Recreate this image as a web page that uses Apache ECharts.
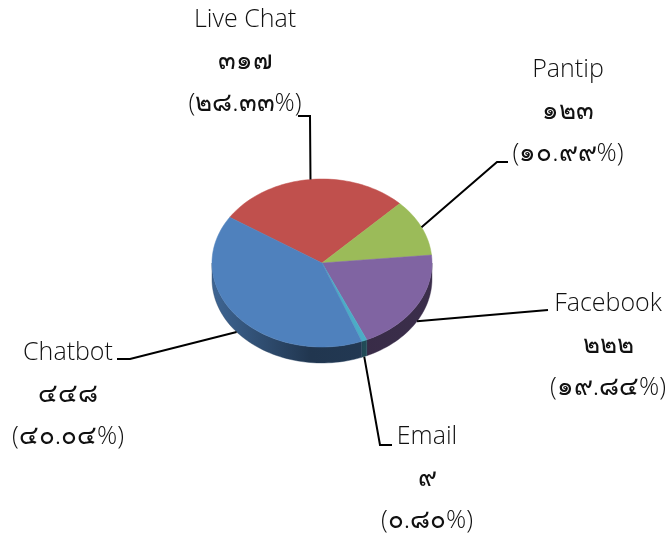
<!DOCTYPE html>
<html>
<head>
<meta charset="utf-8">
<script src="https://cdn.jsdelivr.net/npm/echarts@6/dist/echarts.min.js"></script>
<style>
  html, body { margin: 0; padding: 0; background: #fff; }
  #chart { width: 665px; height: 536px; }
</style>
</head>
<body>
<div id="chart"></div>
<script>
var channels = ['Live Chat', 'Pantip', 'Facebook', 'Email', 'Chatbot'];
var counts = [317, 123, 222, 9, 448];
var colors = ['#c0504d', '#9bbb59', '#8064a2', '#4bacc6', '#4f81bd'];

// label layout (centre of the middle text line) and where the leader line meets the text
var labelCenter = [[245, 62], [568, 112], [608, 346], [427, 479], [68, 395]];
var leaderEnd = [[298, 116], [508, 162], [548, 310], [392, 445], [117, 359]];
var elbowDx = [12, -11, 0, -12, 13];

var cx = 322, cy = 263, rx = 110, ry = 84, depth = 16, startAngle = 147;

var total = counts.reduce(function (a, b) { return a + b; }, 0);
var slices = [];
var acc = startAngle;
counts.forEach(function (v) {
    var sweep = v / total * 360;
    slices.push([acc, acc - sweep]);
    acc -= sweep;
});

function thai(s) {
    return String(s).replace(/[0-9]/g, function (d) { return '๐๑๒๓๔๕๖๗๘๙'[+d]; });
}

function pt(deg, dy) {
    var r = deg * Math.PI / 180;
    return [cx + rx * Math.cos(r), cy - ry * Math.sin(r) + (dy || 0)];
}

function arc(from, to, dy) {
    var pts = [];
    var n = Math.max(2, Math.ceil(Math.abs(from - to) / 2));
    for (var i = 0; i <= n; i++) pts.push(pt(from + (to - from) * i / n, dy));
    return pts;
}

function shade(hex, f) {
    var n = parseInt(hex.slice(1), 16);
    var r = Math.round(((n >> 16) & 255) * f), g = Math.round(((n >> 8) & 255) * f), b = Math.round((n & 255) * f);
    return 'rgb(' + r + ',' + g + ',' + b + ')';
}

var latinFont = "'Open Sans', 'Noto Sans', sans-serif";
var thaiFont = "'Noto Sans', 'DejaVu Sans', sans-serif";

function renderItem(params, api) {
    var i = params.dataIndex;
    var hi = slices[i][0], lo = slices[i][1];
    var col = colors[i];
    var children = [];

    // visible front wall: part of the slice lying in the lower half of the ellipse
    [[-540, -360], [-180, 0], [180, 360]].forEach(function (band) {
        var h = Math.min(hi, band[1]), l = Math.max(lo, band[0]);
        if (h <= l) return;
        var pts = arc(h, l, 0).concat(arc(h, l, depth).reverse());
        children.push({
            type: 'polygon',
            z2: 1,
            shape: { points: pts },
            style: {
                fill: {
                    type: 'linear', global: true,
                    x: cx - rx, y: 0, x2: cx + rx, y2: 0,
                    colorStops: [
                        { offset: 0, color: shade(col, 0.78) },
                        { offset: 0.45, color: shade(col, 0.42) },
                        { offset: 1, color: shade(col, 0.46) }
                    ]
                },
                stroke: shade(col, 0.5),
                lineWidth: 0.4
            }
        });
    });

    // top face
    children.push({
        type: 'polygon',
        z2: 2,
        shape: { points: [[cx, cy]].concat(arc(hi, lo, 0)) },
        style: { fill: col, stroke: col, lineWidth: 0.5 }
    });

    // leader line
    var mid = (hi + lo) / 2;
    var anchor = pt(mid, Math.sin(mid * Math.PI / 180) < 0 ? depth : 0);
    var end = leaderEnd[i];
    children.push({
        type: 'polyline',
        z2: 3,
        shape: { points: [anchor, [end[0] + elbowDx[i], end[1]], end] },
        style: { stroke: '#000', lineWidth: 2, fill: null }
    });

    var pct = (counts[i] / total * 100).toFixed(2);
    children.push({
        type: 'text',
        z2: 3,
        x: labelCenter[i][0],
        y: labelCenter[i][1],
        style: {
            text: '{n|' + channels[i] + '}\n{t|' + thai(counts[i]) + '}\n{n|(}{t|' + thai(pct) + '}{n|%)}',
            align: 'center',
            verticalAlign: 'middle',
            fill: '#111',
            rich: {
                n: { fontSize: 25, fontWeight: 300, fontFamily: latinFont, lineHeight: 42, fill: '#111' },
                t: { fontSize: 26, fontWeight: 300, fontFamily: thaiFont, lineHeight: 42, fill: '#111' }
            }
        }
    });

    return { type: 'group', children: children };
}

var chart = echarts.init(document.getElementById('chart'));
chart.setOption({
    animation: false,
    backgroundColor: '#fff',
    series: [{
        type: 'custom',
        coordinateSystem: 'none',
        renderItem: renderItem,
        data: counts
    }]
});
</script>
</body>
</html>
